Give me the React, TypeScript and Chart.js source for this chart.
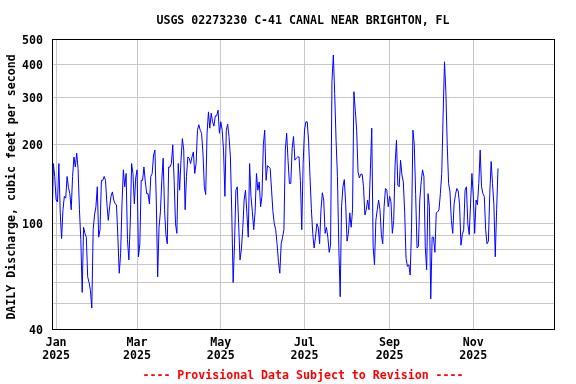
import React, { useEffect, useRef } from 'react';
import { Chart, registerables } from 'chart.js';

Chart.register(...registerables);

const TITLE = 'USGS 02273230 C-41 CANAL NEAR BRIGHTON, FL';
const Y_TITLE = 'DAILY Discharge, cubic feet per second';
const FOOTER = '---- Provisional Data Subject to Revision ----';

// x-axis tick labels (day-of-year 2025, month label, year label)
const TICK_DAYS = [0, 59, 120, 181, 243, 304];
const TICK_MONTHS = ['Jan', 'Mar', 'May', 'Jul', 'Sep', 'Nov'];
const TICK_YEAR = '2025';

// y-axis (log) grid values and labelled values
const Y_GRID = [40, 50, 60, 70, 80, 90, 100, 200, 300, 400, 500];
const Y_LABELED = [40, 100, 200, 300, 400, 500];

// Daily discharge, cubic feet per second
const dec2024 = [96, 169, 151]; // Dec 29-31, 2024
const jan2025 = [123, 121, 169, 110, 88, 113, 127, 125, 151, 137, 130, 113, 151, 179, 164, 185, 162, 113, 87, 55, 97, 92, 89, 63, 60, 56, 48, 95, 108, 116, 138];
const feb2025 = [89, 95, 146, 146, 151, 146, 119, 103, 116, 127, 132, 123, 119, 118, 89, 65, 77, 119, 160, 138, 155, 87, 73, 100, 169, 155, 119, 149];
const mar2025 = [160, 75, 84, 146, 146, 164, 144, 130, 130, 119, 151, 155, 182, 190, 121, 63, 97, 111, 146, 177, 113, 91, 84, 164, 164, 169, 199, 146, 100, 92, 169];
const apr2025 = [134, 174, 210, 190, 113, 151, 179, 177, 169, 179, 187, 155, 169, 226, 237, 226, 220, 185, 138, 129, 220, 265, 230, 262, 243, 234, 256, 256, 269, 220];
const may2025 = [243, 226, 190, 127, 226, 238, 214, 179, 110, 60, 84, 134, 138, 100, 73, 80, 96, 123, 134, 110, 89, 169, 127, 111, 95, 111, 155, 134, 144, 116, 127];
const jun2025 = [199, 226, 146, 166, 164, 162, 134, 111, 100, 95, 84, 72, 65, 84, 89, 95, 190, 220, 174, 142, 142, 193, 214, 174, 177, 179, 179, 146, 95, 169];
const jul2025 = [226, 243, 243, 204, 151, 114, 92, 81, 89, 100, 97, 84, 113, 131, 123, 92, 97, 89, 78, 83, 345, 435, 311, 207, 151, 82, 53, 116, 138, 147, 119];
const aug2025 = [86, 92, 110, 97, 113, 316, 269, 226, 157, 149, 154, 154, 138, 108, 113, 123, 113, 160, 230, 82, 70, 103, 113, 123, 113, 91, 84, 116, 136, 134, 116];
const sep2025 = [127, 121, 92, 103, 167, 207, 140, 138, 174, 153, 144, 110, 74, 69, 70, 64, 97, 226, 199, 129, 81, 82, 123, 144, 160, 151, 82, 67, 130, 116];
const oct2025 = [52, 89, 89, 78, 110, 111, 113, 130, 155, 258, 410, 316, 199, 142, 132, 103, 92, 119, 129, 136, 133, 118, 83, 91, 95, 134, 138, 100, 91, 119, 155];
const nov2025 = [127, 92, 123, 118, 142, 190, 138, 130, 127, 95, 84, 86, 130, 172, 142, 118, 75, 113, 162];

// first day (days since Jan 1, 2025) of each block
const BLOCKS: { start: number; values: number[] }[] = [
  { start: -3, values: dec2024 },
  { start: 0, values: jan2025 },
  { start: 31, values: feb2025 },
  { start: 59, values: mar2025 },
  { start: 90, values: apr2025 },
  { start: 120, values: may2025 },
  { start: 151, values: jun2025 },
  { start: 181, values: jul2025 },
  { start: 212, values: aug2025 },
  { start: 243, values: sep2025 },
  { start: 273, values: oct2025 },
  { start: 304, values: nov2025 },
];

const FONT = '"DejaVu Sans Mono", monospace';
const FS = 11.6;

const overlay = {
  id: 'overlay',
  afterDraw(chart: any) {
    const { ctx, chartArea: a } = chart;
    ctx.save();
    ctx.strokeStyle = '#000000';
    ctx.lineWidth = 1;
    ctx.strokeRect(a.left + 0.5, a.top + 0.5, a.right - a.left, a.bottom - a.top);
    ctx.font = `bold ${FS}px ${FONT}`;
    ctx.textAlign = 'center';
    ctx.textBaseline = 'middle';
    ctx.fillStyle = '#000000';
    const cx = (a.left + a.right) / 2;
    ctx.fillText(TITLE, cx, 21);
    ctx.fillStyle = '#ff0000';
    ctx.fillText(FOOTER, cx, 375.5);
    ctx.fillStyle = '#000000';
    ctx.translate(12, 187);
    ctx.rotate(-Math.PI / 2);
    ctx.fillText(Y_TITLE, 0, 0);
    ctx.restore();
  },
};

export default function App() {
  const ref = useRef<HTMLCanvasElement>(null);
  useEffect(() => {
    if (!ref.current) return;
    const points: { x: number; y: number }[] = [];
    BLOCKS.forEach((b) => b.values.forEach((v, i) => points.push({ x: b.start + i, y: v })));
    const chart = new Chart(ref.current, {
      type: 'line',
      data: {
        datasets: [
          {
            data: points,
            borderColor: '#0000ff',
            borderWidth: 1,
            pointRadius: 0,
            tension: 0,
            fill: false,
          },
        ],
      },
      options: {
        animation: false,
        responsive: false,
        devicePixelRatio: 1,
        layout: { padding: { top: 39, right: 22, left: 0, bottom: 0 } },
        plugins: { legend: { display: false }, tooltip: { enabled: false }, title: { display: false } },
        scales: {
          x: {
            type: 'linear',
            min: -3,
            max: 362.8,
            afterFit: (s: any) => {
              s.height = 55;
            },
            afterBuildTicks: (s: any) => {
              s.ticks = TICK_DAYS.map((v) => ({ value: v }));
            },
            ticks: {
              autoSkip: false,
              maxRotation: 0,
              padding: 7,
              color: '#000000',
              font: { family: FONT, size: FS, weight: 'bold', lineHeight: 1.12 },
              callback: (v: any) => {
                const i = TICK_DAYS.indexOf(Number(v));
                return i >= 0 ? [TICK_MONTHS[i], TICK_YEAR] : '';
              },
            },
            grid: { color: '#c8c8c8', lineWidth: 1, drawTicks: false },
            border: { display: false },
          },
          y: {
            type: 'logarithmic',
            min: 40,
            max: 500,
            afterFit: (s: any) => {
              s.width = 52;
            },
            afterBuildTicks: (s: any) => {
              s.ticks = Y_GRID.map((v) => ({ value: v }));
            },
            ticks: {
              autoSkip: false,
              padding: 9,
              labelOffset: 1.5,
              color: '#000000',
              font: { family: FONT, size: FS, weight: 'bold' },
              callback: (v: any) => (Y_LABELED.includes(Number(v)) ? String(v) : ''),
            },
            grid: { color: '#c8c8c8', lineWidth: 1, drawTicks: false },
            border: { display: false },
          },
        },
      },
      plugins: [overlay],
    });
    return () => chart.destroy();
  }, []);
  return (
    <div style={{ position: 'absolute', left: 0, top: 0, width: 576, height: 384, background: '#ffffff' }}>
      <canvas ref={ref} width={576} height={384} style={{ display: 'block', width: 576, height: 384 }} />
    </div>
  );
}
